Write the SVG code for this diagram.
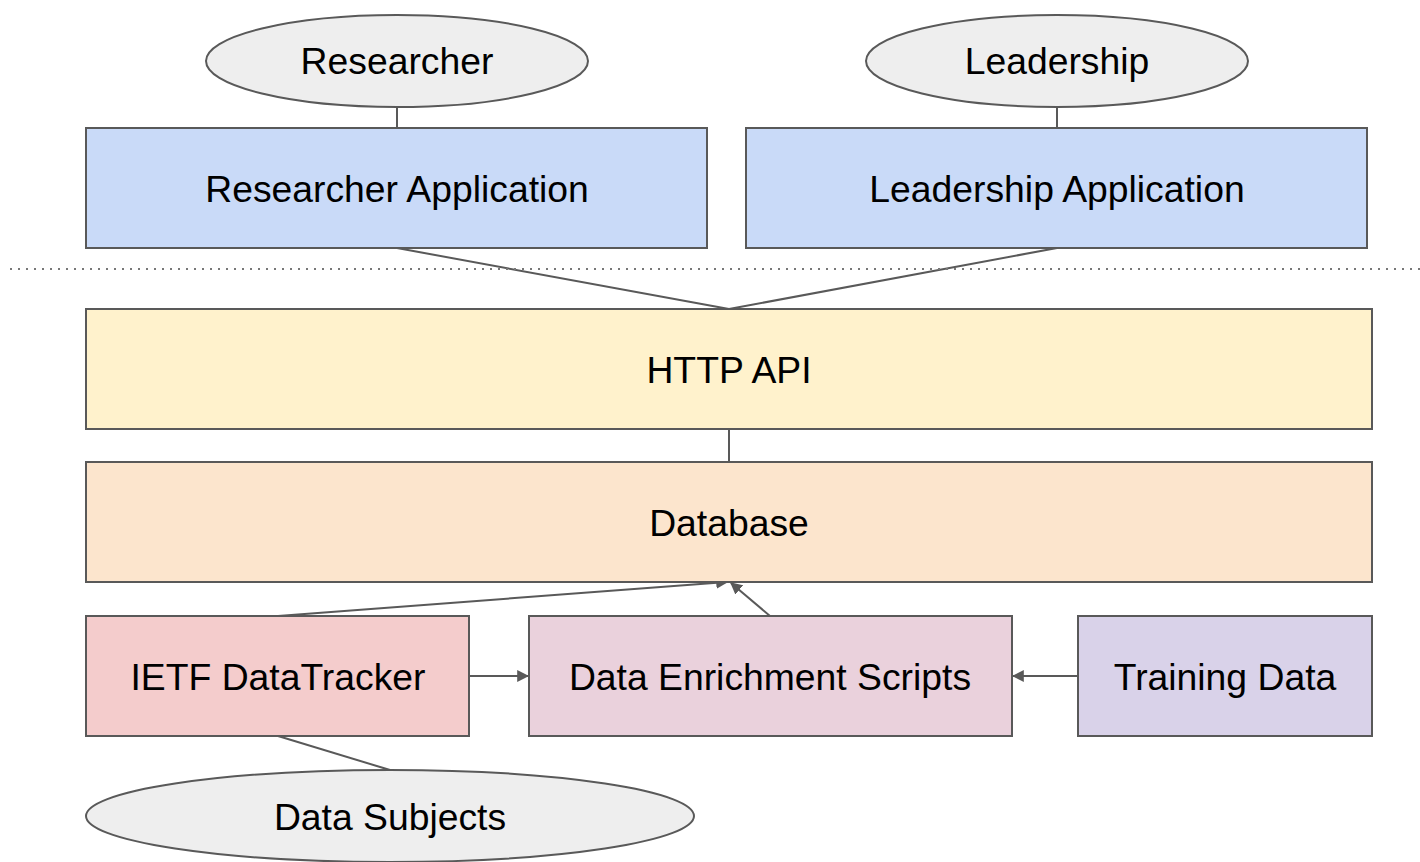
<svg xmlns="http://www.w3.org/2000/svg" width="1420" height="862" viewBox="0 0 1420 862">
<defs>
<style>
.n{stroke:#595959;stroke-width:2}
.t{font-family:"Liberation Sans",Arial,sans-serif;font-size:37.3px;fill:#000;text-anchor:middle}
.c{stroke:#595959;stroke-width:2;fill:none}
</style>
<marker id="a" viewBox="0 0 10 10" refX="9" refY="5" markerWidth="6" markerHeight="6" orient="auto" markerUnits="strokeWidth">
<path d="M0,0 L10,5 L0,10 z" fill="#595959"/>
</marker>
</defs>
<rect width="1420" height="862" fill="#fff"/>
<g id="connectors">
<line class="c" x1="397" y1="107" x2="397" y2="128"/>
<line class="c" x1="1057" y1="107" x2="1057" y2="128"/>
<line class="c" x1="397" y1="248" x2="729" y2="309"/>
<line class="c" x1="1057" y1="248" x2="729" y2="309"/>
<line class="c" x1="729" y1="429" x2="729" y2="462"/>
<line class="c" x1="278" y1="616" x2="727" y2="582" marker-end="url(#a)"/>
<line class="c" x1="770" y1="616" x2="731" y2="583" marker-end="url(#a)"/>
<line class="c" x1="469" y1="676" x2="528" y2="676" marker-end="url(#a)"/>
<line class="c" x1="1078" y1="676" x2="1013" y2="676" marker-end="url(#a)"/>
<line class="c" x1="278" y1="736" x2="390" y2="770"/>
</g>
<line id="divider" x1="10" y1="269" x2="1420" y2="269" stroke="#777" stroke-width="2" stroke-dasharray="2,6"/>
<g id="researcher"><ellipse class="n" cx="397" cy="61" rx="191" ry="46" fill="#eeeeee"/><text class="t" x="397" y="74">Researcher</text></g>
<g id="leadership"><ellipse class="n" cx="1057" cy="61" rx="191" ry="46" fill="#eeeeee"/><text class="t" x="1057" y="74">Leadership</text></g>
<g id="researcher-app"><rect class="n" x="86" y="128" width="621" height="120" fill="#c9daf8"/><text class="t" x="397" y="202">Researcher Application</text></g>
<g id="leadership-app"><rect class="n" x="746" y="128" width="621" height="120" fill="#c9daf8"/><text class="t" x="1057" y="202">Leadership Application</text></g>
<g id="http-api"><rect class="n" x="86" y="309" width="1286" height="120" fill="#fff2cc"/><text class="t" x="729" y="383">HTTP API</text></g>
<g id="database"><rect class="n" x="86" y="462" width="1286" height="120" fill="#fce5cd"/><text class="t" x="729" y="536">Database</text></g>
<g id="ietf"><rect class="n" x="86" y="616" width="383" height="120" fill="#f4cccc"/><text class="t" x="278" y="690">IETF DataTracker</text></g>
<g id="enrichment"><rect class="n" x="529" y="616" width="483" height="120" fill="#ead1dc"/><text class="t" x="770" y="690">Data Enrichment Scripts</text></g>
<g id="training"><rect class="n" x="1078" y="616" width="294" height="120" fill="#d9d2e9"/><text class="t" x="1225" y="690">Training Data</text></g>
<g id="data-subjects"><ellipse class="n" cx="390" cy="816" rx="304" ry="46" fill="#eeeeee"/><text class="t" x="390" y="830">Data Subjects</text></g>
</svg>
